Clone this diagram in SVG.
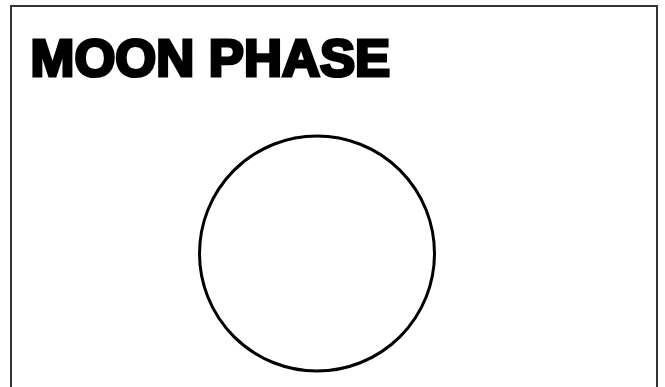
<svg xmlns="http://www.w3.org/2000/svg" width="665" height="387" viewBox="0 0 665 387">
<style>
.frame{fill:#ffffff;stroke:#333333;stroke-width:2}
.title{font-family:"Liberation Sans",Arial,sans-serif;font-weight:bold;font-size:52.5px;fill:#000000;stroke:#000000;stroke-width:3.2;stroke-linejoin:miter}
.moon{fill:#ffffff;stroke:#000000;stroke-width:3}
</style>
<rect x="0" y="0" width="665" height="387" fill="#ffffff"/>
<g id="frame"><rect class="frame" x="11" y="6" width="646" height="400"/></g>
<g id="title"><text class="title" x="30.6" y="76.1" textLength="359.5" lengthAdjust="spacingAndGlyphs">MOON PHASE</text></g>
<g id="moon"><circle class="moon" cx="317" cy="253.5" r="117.5"/></g>
<g id="connectors"></g>
</svg>
